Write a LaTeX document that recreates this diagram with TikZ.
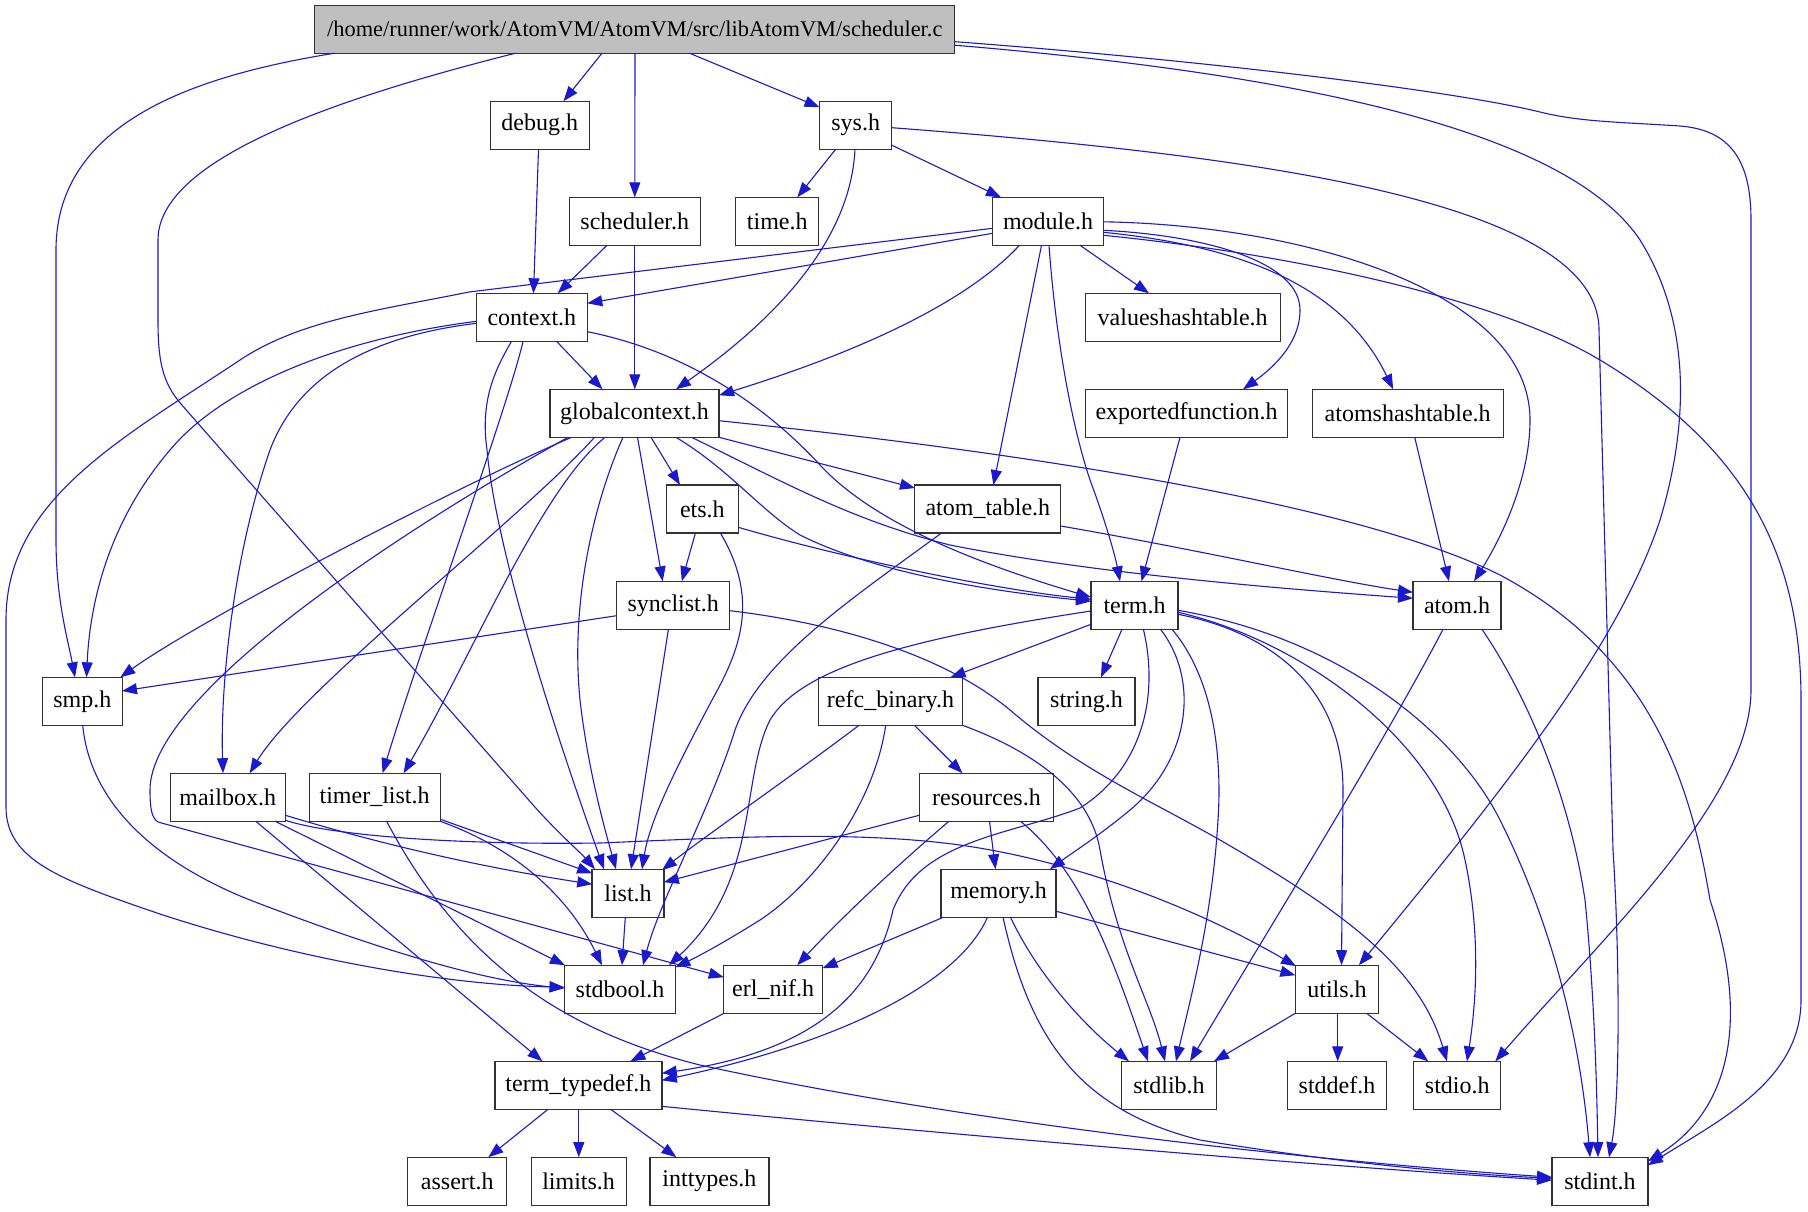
\documentclass[tikz,border=0pt]{standalone}
\usepackage{fontspec}
\setmainfont{Liberation Serif}
\usetikzlibrary{arrows.meta,calc}
\definecolor{edgeblue}{RGB}{26,26,204}
\definecolor{boxgray}{RGB}{191,191,191}
\definecolor{boxline}{RGB}{50,50,50}
\newcommand\eS[4]{\draw[edge] ($(#1)+(#2)$) -- ($(#3)+(#4)$);}
\newcommand\eC[6]{\draw[edge] ($(#1)+(#2)$) .. controls (#3) and (#4) .. ($(#5)+(#6)$);}
\newcommand\nd[5]{\node[box,minimum width=#4pt] (#1) at (#2,#3) {#5};}
\begin{document}
\begin{tikzpicture}[x=0.5pt,y=-0.5pt,
 box/.style={draw=boxline,line width=0.6pt,fill=white,minimum height=24pt,inner sep=0pt,font=\fontsize{12}{14}\selectfont},
 edge/.style={draw=edgeblue,line width=0.55pt,-{Triangle[length=7.5pt,width=5.5pt]}}]
\fill[white] (0,0) rectangle (1808,1211);
\useasboundingbox (0,0) rectangle (1808,1211);
% nodes
\node[box,fill=boxgray,minimum width=320pt,font=\fontsize{11.2}{13}\selectfont] (main) at (634.8,29.2) {/home/runner/work/AtomVM/AtomVM/src/libAtomVM/scheduler.c};
\nd{debug}{539.8}{125.2}{49.5}{debug.h}
\nd{sys}{855.7}{125.2}{36}{sys.h}
\nd{schedh}{634.8}{221.3}{65.5}{scheduler.h}
\nd{time}{777.3}{221.3}{41.5}{time.h}
\nd{module}{1048}{221.3}{55.5}{module.h}
\nd{context}{531.9}{317.3}{55.5}{context.h}
\nd{values}{1182.7}{317.3}{97.5}{valueshashtable.h}
\nd{global}{634.5}{413.3}{84.5}{globalcontext.h}
\nd{exported}{1186.5}{413.3}{101}{exportedfunction.h}
\nd{atomsh}{1407.7}{413.3}{95.5}{atomshashtable.h}
\nd{ets}{702.4}{509}{36}{ets.h}
\nd{atomtable}{987.8}{509}{73}{atom\_table.h}
\nd{synclist}{673.2}{605.3}{56.5}{synclist.h}
\nd{term}{1134.5}{605.3}{43.5}{term.h}
\nd{atom}{1457}{605.3}{44}{atom.h}
\nd{smp}{82.3}{701.3}{40}{smp.h}
\nd{refc}{890.5}{701.3}{72}{refc\_binary.h}
\nd{string}{1086.5}{701.3}{48.5}{string.h}
\nd{mailbox}{227.7}{797.2}{57.5}{mailbox.h}
\nd{timer}{374.6}{797.2}{65.5}{timer\_list.h}
\nd{resources}{986.5}{797.2}{67}{resources.h}
\nd{list}{628}{893.2}{36}{list.h}
\nd{memory}{998.5}{893.2}{57.5}{memory.h}
\nd{stdbool}{620}{989.2}{55.5}{stdbool.h}
\nd{erlnif}{773.2}{989.2}{49.5}{erl\_nif.h}
\nd{utils}{1337}{989.2}{41.5}{utils.h}
\nd{termtd}{578.4}{1085.3}{83.5}{term\_typedef.h}
\nd{stdlib}{1169}{1085.3}{47.5}{stdlib.h}
\nd{stddef}{1337}{1085.3}{49.5}{stddef.h}
\nd{stdio}{1457.3}{1085.3}{43.5}{stdio.h}
\nd{assert}{457.3}{1181.2}{49.5}{assert.h}
\nd{limits}{578.6}{1181.2}{47.5}{limits.h}
\nd{inttypes}{709.4}{1181.2}{59.5}{inttypes.h}
\nd{stdint}{1600}{1181.2}{48}{stdint.h}
% edges from scheduler.c
\eS{main}{-32.8,24}{debug}{23.7,-24}
\eS{main}{0.2,24}{schedh}{0,-24}
\eS{main}{54.7,24}{sys}{-36.2,-18}
\draw[edge] ($(main)+(-300.2,24)$) .. controls (200,75) and (56,120) .. (56,250) -- (56,540) .. controls (56,600) and (68,640) .. ($(smp)+(-7.3,-24)$);
\draw[edge] ($(main)+(-119.4,24)$) .. controls (330,100) and (158,160) .. (158,240) -- (158,320) .. controls (158,360) and (162,382) .. (181,404) -- (534,806) .. controls (560,835) and (580,852) .. ($(list)+(-33,-24)$);
\draw[edge] ($(main)+(320,16)$) .. controls (1250,70) and (1560,120) .. (1640,240) .. controls (1690,320) and (1690,420) .. (1660,520) .. controls (1620,640) and (1520,770) .. ($(utils)+(22,-24)$);
\draw[edge] ($(main)+(320,12.5)$) .. controls (1200,60) and (1450,90) .. (1540,112) .. controls (1580,122) and (1620,122) .. (1680,126) .. controls (1730,130) and (1751,160) .. (1751,220) -- (1751,690) .. controls (1751,800) and (1600,940) .. ($(stdio)+(38,-24)$);
% debug, scheduler.h, sys
\eS{debug}{-1.3,24}{context}{1.6,-24}
\eS{schedh}{-27.8,24}{context}{25.8,-24}
\eS{schedh}{0,24}{global}{0.3,-24}
\eS{sys}{-20,24}{time}{20,-24}
\eS{sys}{36.1,20}{module}{-47,-24}
\eC{sys}{-0.7,24}{850,250}{760,330}{global}{41.5,-24}
\draw[edge] ($(sys)+(36.1,2.5)$) .. controls (1250,155) and (1599,200) .. (1599,330) -- (1613,850) .. controls (1620,960) and (1620,1100) .. ($(stdint)+(9,-24)$);
% module.h
\eS{module}{-55.4,12}{context}{55.4,-14}
\draw[edge] ($(module)+(-55.4,7)$) -- (469,292) .. controls (380,310) and (300,320) .. (240,360) .. controls (120,440) and (6,500) .. (6,620) -- (6,807) .. controls (6,860) and (60,880) .. (160,914) .. controls (300,960) and (450,985) .. ($(stdbool)+(-55.4,-2)$);
\eC{module}{-28.5,24}{950,320}{800,370}{global}{84.5,-18}
\eS{module}{-6.5,24}{atomtable}{5.6,-24}
\draw[edge] ($(module)+(1,24)$) .. controls (1055,330) and (1070,420) .. (1090,480) .. controls (1105,520) and (1115,555) .. ($(term)+(-14.5,-24)$);
\eS{module}{32,24}{values}{-33.7,-24}
\draw[edge] ($(module)+(55.4,9)$) .. controls (1200,235) and (1300,260) .. (1300,310) .. controls (1300,345) and (1270,370) .. ($(exported)+(56.5,-24)$);
\eC{module}{55.4,11}{1230,245}{1340,280}{atomsh}{-14.5,-24}
\draw[edge] ($(module)+(55.4,0.5)$) .. controls (1300,225) and (1530,290) .. (1530,420) .. controls (1530,480) and (1500,540) .. ($(atom)+(17,-24)$);
\draw[edge] ($(module)+(55.4,14)$) .. controls (1300,255) and (1500,300) .. (1600,360) .. controls (1750,450) and (1801,560) .. (1801,700) -- (1801,1000) .. controls (1801,1080) and (1720,1120) .. ($(stdint)+(48,-16)$);
% context.h
\draw[edge] ($(context)+(-55.4,4)$) .. controls (330,340) and (220,390) .. (170,450) .. controls (110,520) and (90,600) .. ($(smp)+(4.2,-24)$);
\draw[edge] ($(context)+(-55.4,6)$) .. controls (380,335) and (300,370) .. (270,450) .. controls (235,550) and (220,680) .. ($(mailbox)+(-4.7,-24)$);
\draw[edge] ($(context)+(-20.4,24)$) .. controls (495,370) and (480,400) .. (487,450) .. controls (497,560) and (565,760) .. ($(list)+(-24,-24)$);
\eC{context}{-8.9,24}{510,400}{420,650}{timer}{8,-24}
\eS{context}{24.6,24}{global}{-32,-24}
\draw[edge] ($(context)+(55.4,14.4)$) .. controls (680,350) and (760,400) .. (820,465) .. controls (880,530) and (1000,570) .. ($(term)+(-43.5,-8)$);
% globalcontext.h
\eC{global}{-63,24}{450,490}{200,620}{smp}{38,-24}
\eC{global}{-40,24}{520,520}{300,690}{mailbox}{22,-24}
\eC{global}{-29.5,24}{540,490}{470,660}{timer}{29,-24}
\draw[edge] ($(global)+(-11.5,24)$) .. controls (595,500) and (570,600) .. (580,700) .. controls (588,770) and (605,830) .. ($(list)+(-12,-24)$);
\draw[edge] ($(global)+(-66.5,24)$) .. controls (420,520) and (150,690) .. (150,790) .. controls (150,810) and (152,818) .. (158,822) -- ($(erlnif)+(-49.4,-12)$);
\eS{global}{3,24}{synclist}{-10.5,-24}
\eS{global}{16.5,24}{ets}{-22.4,-24}
\draw[edge] ($(global)+(41.5,24)$) .. controls (730,470) and (760,510) .. (800,535) .. controls (880,575) and (1000,592) .. ($(term)+(-43.5,-4)$);
\draw[edge] ($(global)+(57,24)$) .. controls (780,480) and (850,520) .. (950,545) .. controls (1100,575) and (1300,590) .. ($(atom)+(-44,-7)$);
\eS{global}{84.5,24}{atomtable}{-72.8,-21}
\draw[edge] ($(global)+(84.5,7.4)$) .. controls (1000,450) and (1350,500) .. (1500,575) .. controls (1650,655) and (1690,780) .. (1710,900) .. controls (1750,1020) and (1730,1110) .. ($(stdint)+(48,-20)$);
% ets.h
\eS{ets}{-7,24}{synclist}{8.6,-24}
\eC{ets}{36,18.3}{850,560}{1000,590}{term}{-43.5,-6}
\draw[edge] ($(ets)+(18,24)$) .. controls (760,600) and (740,650) .. (712,700) .. controls (675,770) and (650,820) .. ($(list)+(14,-24)$);
% synclist.h
\eS{synclist}{-56.7,10.4}{smp}{39.7,-10.3}
\eS{synclist}{-4.8,24}{list}{3,-24}
\draw[edge] ($(synclist)+(56.7,5.4)$) .. controls (850,625) and (950,660) .. (1010,710) .. controls (1080,770) and (1150,800) .. (1220,840) .. controls (1350,915) and (1420,970) .. ($(stdio)+(-10.3,-24)$);
% atom_table.h
\draw[edge] ($(atomtable)+(-46.3,24)$) .. controls (850,600) and (760,660) .. (735,730) .. controls (710,810) and (660,900) .. ($(stdbool)+(23,-24)$);
\eC{atomtable}{72.9,17}{1200,550}{1330,580}{atom}{-44,-13}
% term.h
\draw[edge] ($(term)+(-43.5,5.7)$) .. controls (900,640) and (800,670) .. (770,720) .. controls (740,780) and (760,880) .. ($(stdbool)+(49,-24)$);
\eS{term}{-43.5,19}{refc}{60,-24}
\eS{term}{-12.5,24}{string}{14.5,-24}
\draw[edge] ($(term)+(26,24)$) .. controls (1200,680) and (1190,760) .. (1130,810) .. controls (1100,835) and (1072,853) .. ($(memory)+(51.5,-24)$);
\draw[edge] ($(term)+(8.9,24)$) .. controls (1160,700) and (1140,770) .. (1080,808) .. controls (1010,835) and (920,840) .. (893,910) .. controls (875,990) and (820,1050) .. ($(termtd)+(83.4,-12)$);
\draw[edge] ($(term)+(43.5,9)$) .. controls (1260,630) and (1343,680) .. (1343,790) -- ($(utils)+(4.5,-24)$);
\draw[edge] ($(term)+(43.5,7)$) .. controls (1300,640) and (1440,740) .. (1465,860) .. controls (1482,940) and (1475,1010) .. ($(stdio)+(9.7,-24)$);
\draw[edge] ($(term)+(43.5,5)$) .. controls (1350,640) and (1460,740) .. (1500,820) .. controls (1560,940) and (1582,1060) .. ($(stdint)+(-10,-24)$);
\draw[edge] ($(term)+(37.5,24)$) .. controls (1215,680) and (1222,760) .. (1218,820) .. controls (1212,920) and (1190,1000) .. ($(stdlib)+(7,-24)$);
% atom.h, atomshashtable.h, exportedfunction.h, smp.h
\eC{atom}{-14,24}{1380,750}{1250,960}{stdlib}{21,-24}
\draw[edge] ($(atom)+(25,24)$) .. controls (1530,700) and (1570,800) .. (1585,900) .. controls (1595,1000) and (1597,1100) .. ($(stdint)+(-2,-24)$);
\eS{atomsh}{7,24}{atom}{-8,-24}
\eS{exported}{-6.5,24}{term}{7,-24}
\draw[edge] ($(smp)+(0.4,24)$) .. controls (90,800) and (150,860) .. (250,900) .. controls (380,950) and (480,980) .. ($(stdbool)+(-55.4,-1)$);
% refc_binary.h
\eS{refc}{24,24}{resources}{-24,-24}
\eC{refc}{-31.5,24}{800,770}{700,840}{list}{34,-23}
\draw[edge] ($(refc)+(-4.8,24)$) .. controls (875,800) and (820,880) .. (760,920) .. controls (720,945) and (695,958) .. ($(stdbool)+(55.3,-22)$);
\draw[edge] ($(refc)+(72,24)$) .. controls (1030,750) and (1090,790) .. (1100,850) .. controls (1118,950) and (1150,1000) .. ($(stdlib)+(-4,-24)$);
% resources.h
\eS{resources}{-67,18}{list}{35.8,-11}
\eC{resources}{-37.5,24}{880,880}{830,930}{erlnif}{24,-24}
\eS{resources}{3,24}{memory}{-3,-24}
\eC{resources}{34,24}{1080,870}{1110,950}{stdlib}{-21,-24}
% memory.h
\eS{memory}{-55,24}{erlnif}{49.4,-21}
\eC{memory}{-11,24}{960,980}{850,1040}{termtd}{83.4,-5}
\eC{memory}{12,24}{1040,980}{1090,1030}{stdlib}{-40,-24}
\draw[edge] ($(memory)+(4.5,24)$) .. controls (1030,1040) and (1080,1110) .. (1200,1140) .. controls (1350,1165) and (1480,1175) .. ($(stdint)+(-48,-3)$);
\eS{memory}{57.5,18}{utils}{-41.6,-14}
% erl_nif.h, mailbox.h, timer_list.h, list.h
\eS{erlnif}{-49,24}{termtd}{52,-24}
\eS{mailbox}{28,24}{termtd}{-36,-24}
\eS{mailbox}{47.3,24}{stdbool}{-55,-24}
\eC{mailbox}{57.4,18}{400,850}{500,870}{list}{-35.8,-9}
\draw[edge] ($(mailbox)+(57.4,23)$) .. controls (330,835) and (450,845) .. (600,843) .. controls (720,838) and (850,830) .. (960,845) .. controls (1080,862) and (1200,910) .. ($(utils)+(-41,-23)$);
\draw[edge] ($(timer)+(12,24)$) .. controls (460,960) and (560,1030) .. (700,1065) .. controls (950,1120) and (1300,1160) .. ($(stdint)+(-48,-4)$);
\eS{timer}{65.5,22}{list}{-35.8,-20}
\eC{timer}{65.5,24}{520,850}{570,900}{stdbool}{-18,-24}
\eS{list}{-2.7,24}{stdbool}{2,-24}
% term_typedef.h, utils.h
\eS{termtd}{-30.4,24}{assert}{31,-24}
\eS{termtd}{0.4,24}{limits}{0.2,-24}
\eS{termtd}{32.3,24}{inttypes}{-33,-24}
\eC{termtd}{83.4,21}{900,1130}{1300,1165}{stdint}{-48,-1}
\eS{utils}{-41.6,24}{stdlib}{45,-24}
\eS{utils}{0.7,24}{stddef}{0.7,-24}
\eS{utils}{29.5,24}{stdio}{-29,-24}
\end{tikzpicture}
\end{document}
